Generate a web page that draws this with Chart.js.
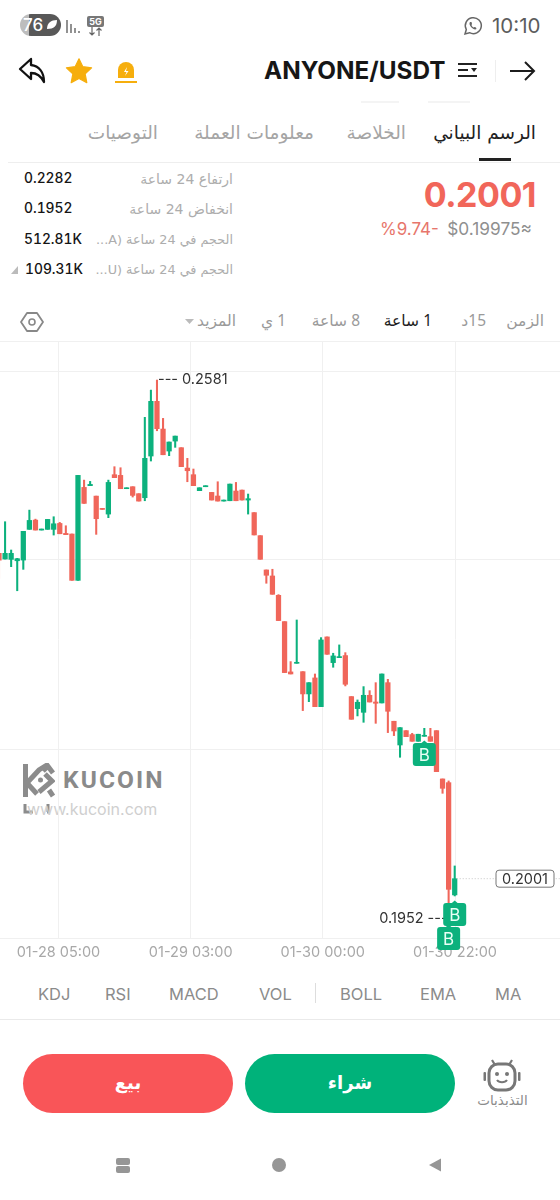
<!DOCTYPE html>
<html><head><meta charset="utf-8">
<script src="https://cdn.jsdelivr.net/npm/chart.js@4/dist/chart.umd.min.js"></script>
<style>
html,body{margin:0;padding:0;background:#fff;width:560px;height:1200px;overflow:hidden;font-family:Inter,"DejaVu Sans",sans-serif}
.a{position:absolute;white-space:nowrap;line-height:1}
.y{transform:translateY(-50%)}
.r{direction:rtl;unicode-bidi:plaintext}
.v{font-size:13.8px;font-weight:500;color:#151515;left:24px;font-variant-numeric:tabular-nums}
.l{font-size:14px;color:#adadad;right:327px;direction:rtl;font-family:"DejaVu Sans",sans-serif}
.t{font-size:15.5px;color:#9a9a9a;direction:rtl;font-family:"Noto Sans","DejaVu Sans",sans-serif}
.i{font-size:16.5px;color:#8b8b8b;top:994px;transform:translateY(-50%)}
svg{position:absolute}
#wrap{position:absolute;left:0;top:336px;width:560px;height:632px}
</style></head><body>
<div class="a" style="left:20px;top:14px;width:41px;height:22px;border-radius:11px;background:linear-gradient(90deg,#bdbdbd 0,#bdbdbd 9px,#585858 9px);color:#fff;font-size:17px;line-height:22px;font-weight:500;text-indent:3px">76</div>
<svg style="left:46px;top:19px" width="12" height="12"><path d="M1 10C1 4 5 1 11 1C11 7 8 10 1 10Z" fill="#fff"/></svg>
<svg style="left:66px;top:19px" width="16" height="16"><path d="M1 1V14M5 5V14M9 9V14M13 12V14" stroke="#777" stroke-width="1.6"/></svg>
<div class="a" style="left:87px;top:16px;width:17px;height:11px;background:#777;border-radius:2px;color:#fff;font-size:9px;line-height:11px;text-align:center;font-weight:700">5G</div>
<svg style="left:88px;top:27px" width="15" height="9"><path d="M4 0V8M1.5 5.5L4 8L6.500 5.500M11 9V1M8.500 3.500L11 1L13.500 3.500" stroke="#666" stroke-width="1.2" fill="none"/></svg>
<svg style="left:463px;top:16px" width="20" height="20" viewBox="0 0 20 20"><path d="M2 18L3.300 13.500A8 8 0 1 1 6.500 16.700Z" fill="none" stroke="#666" stroke-width="1.500"/><path d="M7 6C6 7 6.500 9 8 11C10 13 12 14 13.500 13L13 11.500L11.500 11L10.500 11.500C9.500 11 8.800 10 8.500 9L9 8L8.500 6Z" fill="#666"/></svg>
<div class="a y" style="left:492px;top:26px;font-size:20.500px;color:#5c5c5c">10:10</div>

<svg style="left:18px;top:57px" width="30" height="28" viewBox="0 0 30 28"><path d="M13 2L2 12L13 22V16C19 16 23 19 26 25C26 15 21 9 13 8Z" fill="none" stroke="#111" stroke-width="2.300" stroke-linejoin="round"/></svg>
<svg style="left:65px;top:57px" width="28" height="28" viewBox="0 0 24 24"><path d="M12 1.500L15.300 8.300L22.800 9.300L17.300 14.500L18.700 22L12 18.400L5.300 22L6.700 14.500L1.200 9.300L8.700 8.300Z" fill="#f6ae0d" stroke="#f6ae0d" stroke-linejoin="round"/></svg>
<svg style="left:113px;top:59px" width="26" height="26" viewBox="0 0 26 26"><path d="M5 19V11A8 8 0 0 1 21 11V19Z" fill="#f6ae0d"/><path d="M14 8L11 13H13.500L12 17L15.500 12H13Z" fill="#fff"/><path d="M2 23H24" stroke="#f6ae0d" stroke-width="2"/></svg>
<div class="a y" style="left:264px;top:70px;font-size:24.300px;font-weight:700;color:#161616;letter-spacing:0">ANYONE/USDT</div>
<svg style="left:457px;top:62px" width="22" height="18"><path d="M1 2H20M1 8H11M1 14H20" stroke="#222" stroke-width="2"/><path d="M14 6H20L17 10Z" fill="#222"/></svg>
<div class="a" style="left:495px;top:60px;width:1px;height:22px;background:#eee"></div>
<svg style="left:509px;top:60px" width="27" height="22"><path d="M1 11H25M16 2L25 11L16 20" fill="none" stroke="#1c1c1c" stroke-width="2"/></svg>
<div class="a" style="left:361px;top:101px;width:38px;height:2px;background:#f4f4f4"></div>
<div class="a" style="left:428px;top:101px;width:42px;height:2px;background:#f4f4f4"></div>

<div class="a y r" style="right:24px;top:133px;font-size:18.500px;color:#222;font-family:'DejaVu Sans'">الرسم البياني</div>
<div class="a y r" style="right:154px;top:133px;font-size:18.500px;color:#a5a5a5;font-family:'DejaVu Sans'">الخلاصة</div>
<div class="a y r" style="right:246px;top:133px;font-size:18.500px;color:#a5a5a5;font-family:'DejaVu Sans'">معلومات العملة</div>
<div class="a y r" style="right:402px;top:133px;font-size:18.500px;color:#a5a5a5;font-family:'DejaVu Sans'">التوصيات</div>
<div class="a" style="left:479px;top:158px;width:32px;height:3px;background:#222"></div>
<div class="a" style="left:8px;top:162px;width:552px;height:1px;background:#eee"></div>

<div class="a y v" style="top:179px">0.2282</div>
<div class="a y v" style="top:209px">0.1952</div>
<div class="a y v" style="top:240px">512.81K</div>
<div class="a y v" style="top:270px;left:25px">109.31K</div>
<svg style="left:10px;top:265px" width="9" height="10"><path d="M8 1V9H1Z" fill="#bbb"/></svg>
<div class="a y l" style="top:179px">ارتفاع 24 ساعة</div>
<div class="a y l" style="top:209px">انخفاض 24 ساعة</div>
<div class="a y l" style="top:240px;font-size:12.800px">الحجم في 24 ساعة (A...</div>
<div class="a y l" style="top:270px;font-size:12.800px">الحجم في 24 ساعة (U...</div>
<div class="a y" style="right:24px;top:195px;font-size:34px;font-weight:700;color:#f1665a;letter-spacing:-0.5px">0.2001</div>
<div class="a y" style="right:28px;top:229px;font-size:17.300px;color:#8f8f8f">$0.19975≈</div>
<div class="a y" style="left:380px;top:229px;font-size:17px;color:#e7766c;direction:ltr">%9.74-</div>

<div class="a y t" style="right:16px;top:321px">الزمن</div>
<div class="a y t" style="right:74px;top:321px">15د</div>
<div class="a y t" style="right:128px;top:321px;color:#1d1d1d">1 ساعة</div>
<div class="a y t" style="right:200px;top:321px">8 ساعة</div>
<div class="a y t" style="right:274px;top:321px">1 ي</div>
<div class="a y t" style="right:324px;top:321px">المزيد</div>
<svg style="left:185px;top:318px" width="9" height="7"><path d="M0 1H9L4.500 6Z" fill="#bbb"/></svg>
<svg style="left:20px;top:310px" width="24" height="24" viewBox="0 0 24 24"><path d="M7 3H17L23 12L17 21H7L1 12Z" fill="none" stroke="#888" stroke-width="1.800" stroke-linejoin="round"/><circle cx="12" cy="12" r="3" fill="none" stroke="#888" stroke-width="1.600"/></svg>

<svg style="left:23px;top:763px" width="32" height="52" viewBox="0 0 32 52"><path d="M2.500 1V34" stroke="#8c8c8c" stroke-width="5"/><path d="M3 21L16 7L24 2L30 10M24 4L20 8M16 29L29 18L22 11M4 20L14 31M26 27L30 33" fill="none" stroke="#8c8c8c" stroke-width="5"/><circle cx="17.500" cy="17" r="2.500" fill="#8c8c8c"/><path d="M2 41V49H10M24 49H25V41" fill="none" stroke="#8c8c8c" stroke-width="3"/></svg>
<div class="a y" style="left:63px;top:780px;font-size:24.500px;font-weight:700;color:#8a8a8a;letter-spacing:2.100px;font-family:'Roboto'">KUCOIN</div>
<div class="a y" style="left:27px;top:809px;font-size:16px;color:#cfcfcf">www.kucoin.com</div>

<div id="wrap"><canvas id="c" width="560" height="632" style="width:560px;height:632px"></canvas></div>

<div class="a i" style="left:38px">KDJ</div>
<div class="a i" style="left:105px">RSI</div>
<div class="a i" style="left:169px">MACD</div>
<div class="a i" style="left:259px">VOL</div>
<div class="a" style="left:315px;top:983px;width:1px;height:20px;background:#ddd"></div>
<div class="a i" style="left:340px">BOLL</div>
<div class="a i" style="left:420px">EMA</div>
<div class="a i" style="left:495px">MA</div>
<div class="a" style="left:0;top:1019px;width:560px;height:1px;background:#eaeaea"></div>

<div class="a" style="left:23px;top:1054px;width:210px;height:59px;border-radius:30px;background:#f95558;color:#fff;font-size:18px;font-weight:700;line-height:57px;text-align:center;font-family:'DejaVu Sans'">بيع</div>
<div class="a" style="left:245px;top:1054px;width:210px;height:59px;border-radius:30px;background:#00b27a;color:#fff;font-size:18px;font-weight:700;line-height:57px;text-align:center;font-family:'DejaVu Sans'">شراء</div>
<svg style="left:483px;top:1058px" width="38" height="34" viewBox="0 0 38 34"><path d="M12 7L9 2M26 7L29 2" stroke="#777" stroke-width="2.200"/><rect x="6" y="6" width="26" height="26" rx="9" fill="none" stroke="#777" stroke-width="3"/><rect x="0.500" y="14" width="2.500" height="9" rx="1" fill="#777"/><rect x="35" y="14" width="2.500" height="9" rx="1" fill="#777"/><circle cx="14" cy="16" r="2" fill="#777"/><circle cx="24" cy="16" r="2" fill="#777"/><path d="M14 22C16 25 22 25 24 22" stroke="#777" stroke-width="2" fill="none"/></svg>
<div class="a y" style="left:474px;top:1101px;width:57px;text-align:center;font-size:13.500px;color:#8c8c8c;font-family:'DejaVu Sans'">التذبذبات</div>

<div class="a" style="left:116px;top:1158px;width:14px;height:6.500px;background:#969696;border-radius:2px"></div>
<div class="a" style="left:116px;top:1166px;width:14px;height:6.500px;background:#969696;border-radius:2px"></div>
<div class="a" style="left:272px;top:1158px;width:14px;height:14px;background:#969696;border-radius:50%"></div>
<svg style="left:428px;top:1158px" width="14" height="14"><path d="M13 0.500V13.500L1 7Z" fill="#969696"/></svg>

<script>
const timeLabels = ["01-28 05:00", "01-29 03:00", "01-30 00:00", "01-30 22:00"];
const timeTickPositions = [9.79, 31.55, 53.28, 75.05];
const priceGrid = [0.1932, 0.21518, 0.23717, 0.25915, 0.26264];
const opens = [.23794,.23728,.23724,.23708,.23716,.24073,.24181,.24065,.24073,.24073,.24142,.24026,.24019,.2348,.24561,.24581,.2446,.24317,.24251,.24709,.24701,.24546,.24569,.24488,.24441,.24926,.25562,.2524,.24984,.251,.25023,.24786,.24709,.24523,.24569,.24503,.24461,.24402,.24406,.24519,.2453,.24414,.24268,.24,.23601,.23531,.23306,.23,.22415,.22515,.22418,.22159,.22345,.22011,.22822,.22523,.22581,.22605,.22128,.21988,.21945,.22143,.22065,.22054,.2229,.21841,.21565,.21732,.21686,.21608,.21666,.21662,.21732,.2117,.21127,.19821];
const highs = [.23794,.24162,.23833,.23736,.2405,.24297,.24192,.24077,.24189,.2422,.24154,.24115,.24019,.24701,.24646,.24631,.2446,.24317,.24646,.24802,.2479,.24557,.24569,.24488,.25376,.25693,.2581,.25364,.25089,.25158,.25023,.24899,.24775,.24557,.24581,.24503,.24627,.24414,.246,.24619,.2453,.24484,.24268,.24,.23601,.23609,.23314,.23,.22535,.23019,.22418,.2229,.22391,.22814,.22822,.22632,.22729,.22639,.22128,.22089,.22244,.22197,.2229,.22391,.22329,.21841,.21767,.21732,.21701,.2169,.21759,.21759,.21732,.2117,.21147,.20158];
const lows = [.23503,.23728,.23639,.23359,.23608,.24073,.24065,.24065,.24073,.24007,.24022,.24011,.2348,.2348,.24375,.24581,.24015,.24305,.24209,.24674,.24546,.24546,.24449,.24402,.24406,.24868,.2522,.24941,.2493,.25027,.24802,.24627,.24581,.24523,.24569,.24414,.24402,.24402,.24406,.24406,.24414,.24251,.24008,.23725,.23446,.23318,.23012,.22407,.22391,.22515,.21965,.22069,.22011,.22011,.2262,.22469,.22581,.22252,.21864,.21903,.21829,.22065,.21817,.22054,.21709,.21674,.21422,.21662,.21608,.21608,.21666,.21608,.21255,.21003,.1952,.19809];
const closes = [.23716,.23794,.23794,.23732,.2405,.24177,.24065,.24077,.24189,.24138,.24022,.24011,.2348,.24701,.24375,.24596,.24197,.24305,.24619,.24674,.24546,.24557,.24468,.24402,.24899,.25562,.25244,.24941,.25089,.25158,.24802,.24755,.24581,.24557,.24581,.24414,.24402,.24414,.246,.24406,.24414,.2443,.24008,.23725,.23539,.23318,.23012,.22407,.22391,.22527,.22159,.2229,.22011,.22787,.2262,.22601,.22593,.22271,.21864,.22062,.22143,.22065,.2205,.22391,.21957,.21728,.21767,.21662,.21608,.2169,.21678,.21608,.21255,.21061,.19886,.2001];
const highLabel = {index: 26, price: 0.2581, text: "--- 0.2581"};
const lowLabel = {index: 74, price: 0.1952, text: "0.1952 ---"};
const lastLabel = {index: 75, price: 0.2001, text: "0.2001"};
const buyMarks = [{index: 70, price: 0.21588}, {index: 75, price: 0.19727}, {index: 74, price: 0.19448}];

const GREEN = "#0cb17d", RED = "#f0665a";
const idx = opens.map((_, k) => k);
const colors = idx.map(k => closes[k] >= opens[k] ? GREEN : RED);

const overlay = {
  id: "overlay",
  afterDatasetsDraw(chart) {
    const c = chart.ctx, X = chart.scales.x, Y = chart.scales.y;
    c.save();
    c.font = "14.5px Inter"; c.fillStyle = "#333"; c.textBaseline = "middle";
    c.textAlign = "left";
    c.fillText(highLabel.text, X.getPixelForValue(highLabel.index) + 1, Y.getPixelForValue(highLabel.price) - 0.5);
    c.textAlign = "right";
    c.fillText(lowLabel.text, X.getPixelForValue(lowLabel.index) - 1, Y.getPixelForValue(lowLabel.price) - 2);
    const lx = X.getPixelForValue(lastLabel.index), ly = Y.getPixelForValue(lastLabel.price);
    c.strokeStyle = "#c6c6c6"; c.lineWidth = 1; c.setLineDash([1, 2]);
    c.beginPath(); c.moveTo(lx + 2, ly); c.lineTo(560, ly); c.stroke();
    c.setLineDash([]);
    c.fillStyle = "#fff"; c.strokeStyle = "#777";
    c.beginPath(); c.roundRect(496, ly - 8.5, 58, 17, 3); c.fill(); c.stroke();
    c.fillStyle = "#333"; c.textAlign = "center"; c.font = "14.5px Inter";
    c.fillText(lastLabel.text, 525, ly + 0.5);
    buyMarks.forEach(m => {
      const x = X.getPixelForValue(m.index), y = Y.getPixelForValue(m.price);
      c.fillStyle = GREEN;
      c.beginPath(); c.roundRect(x - 11.5, y, 23, 23, 3); c.fill();
      c.beginPath(); c.moveTo(x - 4, y + 1); c.lineTo(x, y - 2.5); c.lineTo(x + 4, y + 1); c.fill();
      c.fillStyle = "#e9fff6"; c.font = "17px Inter"; c.textAlign = "center";
      c.fillText("B", x, y + 12.5);
    });
    c.restore();
  }
};

new Chart(document.getElementById("c"), {
  type: "bar",
  data: {
    datasets: [
      {label: "wick", data: idx.map(k => ({x: k, y: [lows[k], highs[k]]})), backgroundColor: colors, barThickness: 1.4, order: 2, grouped: false},
      {label: "body", data: idx.map(k => ({x: k, y: [Math.min(opens[k], closes[k]), Math.max(opens[k], closes[k])]})), backgroundColor: colors, barThickness: 4.6, order: 1, grouped: false}
    ]
  },
  options: {
    responsive: false, animation: false, events: [],
    layout: {padding: {top: 5, left: 0, right: 0, bottom: 0}},
    plugins: {legend: {display: false}, tooltip: {enabled: false}},
    scales: {
      x: {
        type: "linear", min: 0.1646, max: 92.33, position: "bottom", offset: false,
        afterBuildTicks(s) { s.ticks = timeTickPositions.map(v => ({value: v})); },
        afterFit(s) { s.height = 30; },
        grid: {color: "#f0f0f0", lineWidth: 1, drawTicks: false, offset: false},
        border: {display: false},
        ticks: {
          padding: 6, color: "#a8a8a8", font: {family: "Inter", size: 14.5}, autoSkip: false, maxRotation: 0,
          callback(v) { const j = timeTickPositions.indexOf(v); return j < 0 ? "" : timeLabels[j]; }
        }
      },
      y: {
        type: "linear", min: 0.1932, max: 0.26264,
        afterBuildTicks(s) { s.ticks = priceGrid.map(v => ({value: v})); },
        afterFit(s) { s.width = 0; },
        grid: {color: "#f0f0f0", lineWidth: 1, drawTicks: false},
        border: {display: false},
        ticks: {display: false}
      }
    }
  },
  plugins: [overlay]
});
</script>
</body></html>
